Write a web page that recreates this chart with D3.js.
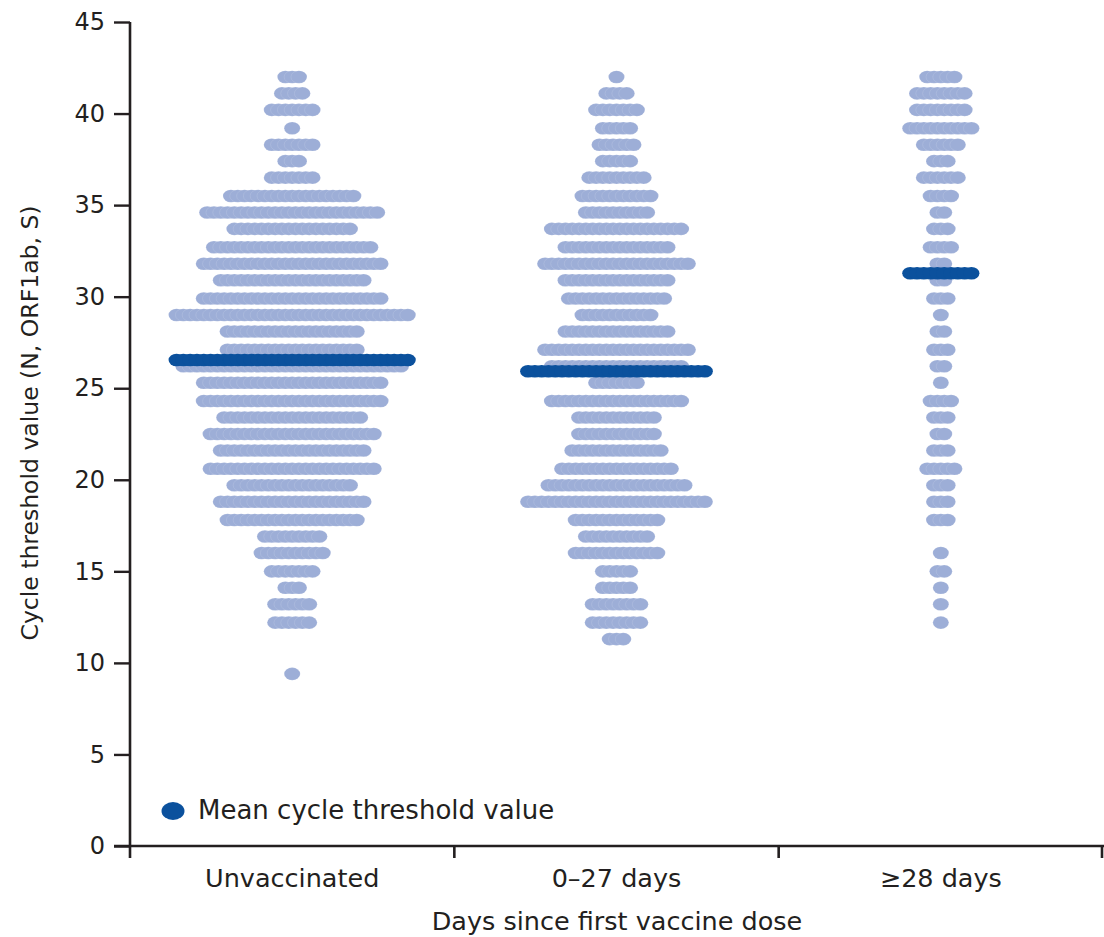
<!DOCTYPE html>
<html>
<head>
<meta charset="utf-8">
<script src="https://cdn.jsdelivr.net/npm/d3@7"></script>
<style>
body{margin:0;background:#fff;}
text{font-family:"DejaVu Sans","Noto Sans",sans-serif;fill:#231f20;}
</style>
</head>
<body>
<svg id="chart"></svg>
<script>
// Ct bins (rows of dots), top to bottom
var ctBins = [42.0,41.1,40.2,39.2,38.3,37.4,36.5,35.5,34.6,33.7,32.7,31.8,30.9,29.9,29.0,28.1,27.1,26.2,25.3,24.3,23.4,22.5,21.6,20.6,19.7,18.8,17.8,16.9,16.0,15.0,14.1,13.2,12.2,11.3,10.4,9.4]

var groups = ["Unvaccinated","0\u201327 days","\u226528 days"]

// number of people per bin
var unvaccinated = [3,4,7,1,7,3,7,19,26,18,24,27,22,27,35,20,20,33,27,27,21,25,22,25,18,22,20,9,10,7,3,6,6,0,0,1]
var early = [1,4,7,5,6,5,9,11,10,20,16,22,16,15,11,16,22,20,7,20,12,12,14,17,21,27,13,10,13,5,5,8,8,3,0,0]
var late = [5,8,8,10,6,3,6,4,2,3,4,2,2,3,1,2,3,2,1,4,3,2,3,5,3,3,3,0,1,2,1,1,1,0,0,0]

var meanCt = [26.54,25.93,31.28]
var meanWidth = [35,27,10]   // how many dark dots the mean bar is drawn with

var yTicks = [0,5,10,15,20,25,30,35,40,45]

var screen = {width:1104,height:937}
var dotStep = 6.8
var rx = 8, ry = 6.3

var drawDots = function(target,xScale,yScale,counts,group)
{
    var pts = []
    counts.forEach(function(n,k){
        for(var i=0;i<n;i++)
        {
            pts.push({ct:ctBins[k],off:(i-(n-1)/2)*dotStep})
        }
    })
    target.append("g")
        .selectAll("ellipse")
        .data(pts)
        .enter()
        .append("ellipse")
        .attr("cx",function(d){return xScale(group)+xScale.bandwidth()/2+d.off})
        .attr("cy",function(d){return yScale(d.ct)})
        .attr("rx",rx)
        .attr("ry",ry)
        .attr("fill","#9daed7")
        .attr("stroke","#ffffff")
        .attr("stroke-opacity",0.2)
        .attr("stroke-width",0.6)
}

var drawMean = function(target,xScale,yScale,ct,n,group)
{
    var pts = d3.range(n).map(function(i){return (i-(n-1)/2)*dotStep})
    target.append("g")
        .selectAll("ellipse")
        .data(pts)
        .enter()
        .append("ellipse")
        .attr("cx",function(off){return xScale(group)+xScale.bandwidth()/2+off})
        .attr("cy",yScale(ct))
        .attr("rx",rx)
        .attr("ry",ry)
        .attr("fill","#0b519d")
}

var initGraph = function()
{
    var svg = d3.select("#chart")
        .attr("width",screen.width)
        .attr("height",screen.height)

    var xScale = d3.scaleBand()
        .domain(groups)
        .range([130,1103])
    var yScale = d3.scaleLinear()
        .domain([0,45])
        .range([846,22])

    var plot = svg.append("g")
    drawDots(plot,xScale,yScale,unvaccinated,groups[0])
    drawDots(plot,xScale,yScale,early,groups[1])
    drawDots(plot,xScale,yScale,late,groups[2])
    groups.forEach(function(g,i){
        drawMean(plot,xScale,yScale,meanCt[i],meanWidth[i],g)
    })

    //y axis
    var yAxis = d3.axisLeft(yScale)
        .tickValues(yTicks)
        .tickSize(16)
        .tickPadding(9)
    var ya = svg.append("g")
        .attr("transform","translate(130,0)")
        .call(yAxis)
    ya.select(".domain").remove()
    ya.selectAll("line").attr("stroke","#231f20").attr("stroke-width",2.4)
    ya.selectAll("text").attr("font-size",24).attr("fill","#231f20")
        .style("font-family","'DejaVu Sans',sans-serif")

    svg.append("line")
        .attr("x1",130).attr("x2",130)
        .attr("y1",yScale(45)).attr("y2",858)
        .attr("stroke","#231f20").attr("stroke-width",2.6)
    svg.append("line")
        .attr("x1",114).attr("x2",1104)
        .attr("y1",yScale(0)).attr("y2",yScale(0))
        .attr("stroke","#231f20").attr("stroke-width",2.6)

    //x ticks at band edges
    var edges = groups.slice(1).map(function(g){return xScale(g)}).concat([xScale.range()[1]-1])
    svg.append("g").selectAll("line")
        .data(edges)
        .enter()
        .append("line")
        .attr("x1",function(d){return d}).attr("x2",function(d){return d})
        .attr("y1",yScale(0)).attr("y2",858)
        .attr("stroke","#231f20").attr("stroke-width",2.6)

    svg.append("g").selectAll("text")
        .data(groups)
        .enter()
        .append("text")
        .text(function(d){return d})
        .attr("x",function(d){return xScale(d)+xScale.bandwidth()/2})
        .attr("y",887)
        .attr("text-anchor","middle")
        .attr("font-size",25.5)

    //labels
    svg.append("text")
        .text("Days since first vaccine dose")
        .attr("x",617)
        .attr("y",930)
        .attr("text-anchor","middle")
        .attr("font-size",25.5)

    svg.append("g")
        .attr("transform","translate(38,423)")
        .append("text")
        .text("Cycle threshold value (N, ORF1ab, S)")
        .attr("text-anchor","middle")
        .attr("transform","rotate(270)")
        .attr("font-size",23)
        .attr("textLength",435)
        .attr("lengthAdjust","spacingAndGlyphs")

    //legend
    var legend = svg.append("g")
        .attr("transform","translate(173,811)")
    legend.append("ellipse")
        .attr("rx",11.5).attr("ry",9)
        .attr("fill","#0b519d")
    legend.append("text")
        .text("Mean cycle threshold value")
        .attr("x",25)
        .attr("y",8)
        .attr("font-size",26)
}

initGraph()
</script>
</body>
</html>
